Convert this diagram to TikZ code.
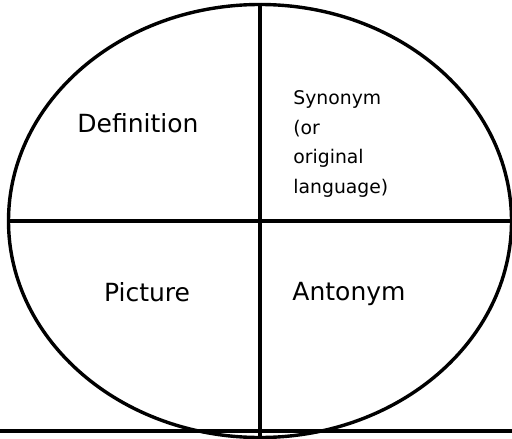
\documentclass[tikz,border=0pt]{standalone}
\usepackage{fontspec}
\setmainfont{DejaVu Sans}
\usetikzlibrary{positioning, shapes.geometric}
\tikzset{
    rule/.style={line width=1.7pt, black},
    label/.style={font=\fontsize{12.5}{15}\selectfont, inner sep=0pt, anchor=base},
    smalllabel/.style={font=\fontsize{9.4}{14.9}\selectfont, align=left, inner sep=0pt},
}

\begin{document}
\begin{tikzpicture}[x=0.5pt, y=-0.5pt]
        \useasboundingbox (0,0) rectangle (512,438);
        \node[ellipse, rule, draw, minimum width=251.5pt, minimum height=216.5pt, inner sep=0pt] (oval) at (260,221) {};
        \coordinate (vbot) at (261,438);
        \coordinate (bl) at (0,431);
        \coordinate (br) at (512,431);
        \draw[rule] (oval.north) -- (oval.north |- vbot);
        \draw[rule] (oval.west) -- (oval.east);
        \draw[rule] (bl) -- (br);
        \node[label] (def) at (138,133) {Definition};
        \node[label] (pic) at (147,301) {Picture};
        \node[label] (ant) at (349,300) {Antonym};
        \node[smalllabel, anchor=north west] (syn) at (293,90) {Synonym\\(or\\original\\language)};
    \end{tikzpicture}
\end{document}
